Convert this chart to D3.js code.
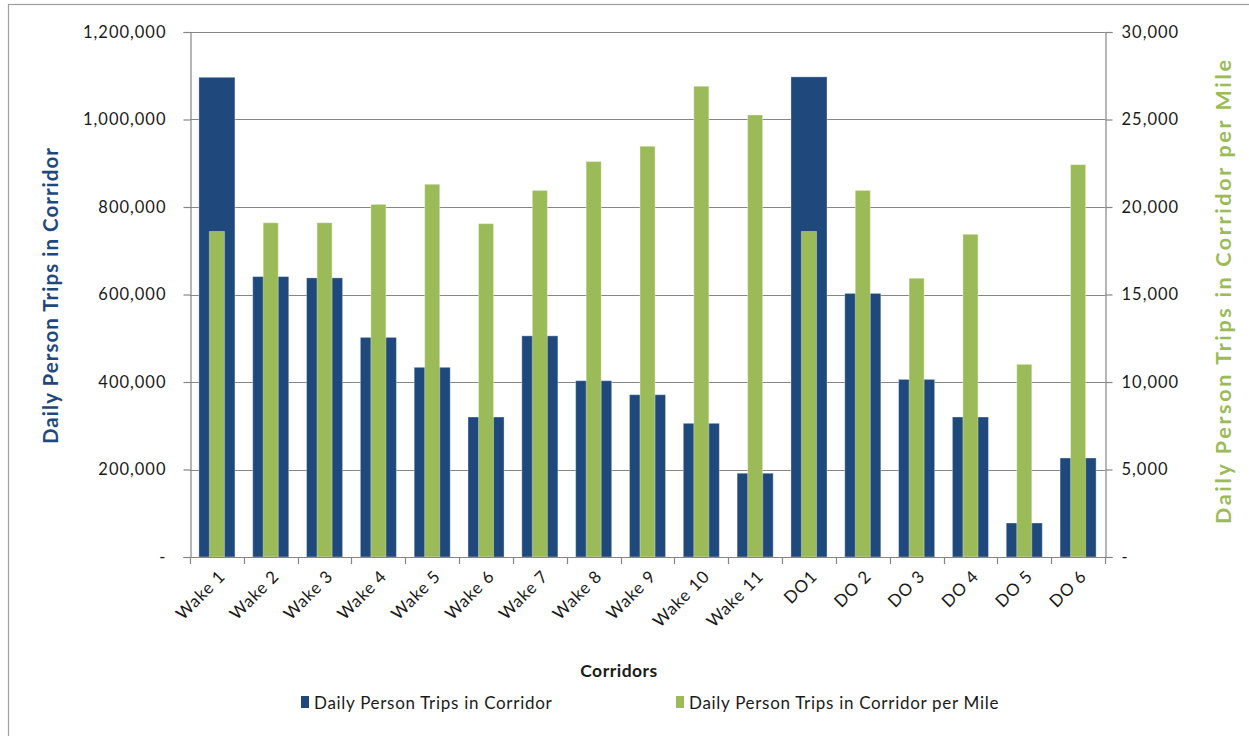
<!DOCTYPE html>
<html>
<head>
<meta charset="utf-8">
<script src="https://cdn.jsdelivr.net/npm/d3@7"></script>
<style>
  html, body { margin: 0; padding: 0; background: #fff; }
  svg { display: block; font-family: Lato, "Open Sans", sans-serif; }
</style>
</head>
<body>
<svg id="chart" width="1249" height="736"></svg>
<script>
// Corridors along the x axis
const corridors = ["Wake 1", "Wake 2", "Wake 3", "Wake 4", "Wake 5", "Wake 6", "Wake 7",
  "Wake 8", "Wake 9", "Wake 10", "Wake 11", "DO1", "DO 2", "DO 3", "DO 4", "DO 5", "DO 6"];

// Daily person trips in each corridor (left axis)
const tripsInCorridor = [1096500, 641000, 638000, 502000, 433600, 320000, 505500,
  403000, 371000, 305600, 191500, 1097500, 602500, 406000, 320000, 77700, 226300];

// Daily person trips per corridor mile (right axis)
const tripsPerMile = [18600, 19100, 19100, 20150, 21300, 19050, 20950,
  22600, 23470, 26900, 25260, 18600, 20950, 15930, 18440, 11010, 22420];

// Axis ticks
const leftTicks = [0, 200000, 400000, 600000, 800000, 1000000, 1200000];
const rightTicks = [0, 5000, 10000, 15000, 20000, 25000, 30000];

const seriesNames = ["Daily Person Trips in Corridor", "Daily Person Trips in Corridor per Mile"];
const colors = { primary: "#1F497D", secondary: "#9BBB59", axis: "#868686", text: "#1a1a1a" };

const plot = { left: 190, right: 1105, top: 32, bottom: 557 };
const svg = d3.select("#chart");

// chart frame
svg.append("rect")
  .attr("x", 8.5).attr("y", 4.5).attr("width", 1260).attr("height", 760)
  .attr("fill", "#fff").attr("stroke", "#a0a0a0").attr("stroke-width", 1.2);

const x = d3.scaleBand().domain(corridors).range([plot.left, plot.right]).padding(0);
const yL = d3.scaleLinear().domain([0, 1200000]).range([plot.bottom, plot.top]);
const yR = d3.scaleLinear().domain([0, 30000]).range([plot.bottom, plot.top]);

const fmt = v => v === 0 ? "-" : d3.format(",")(v);

// horizontal gridlines
svg.append("g").selectAll("line").data(leftTicks.filter(d => d > 0)).join("line")
  .attr("x1", plot.left).attr("x2", plot.right)
  .attr("y1", d => Math.round(yL(d)) + 0.5).attr("y2", d => Math.round(yL(d)) + 0.5)
  .attr("stroke", colors.axis).attr("stroke-width", 1.2);

// primary series bars (wide)
const bw = x.bandwidth();
svg.append("g").selectAll("rect").data(tripsInCorridor).join("rect")
  .attr("x", (d, i) => x(corridors[i]) + bw * 0.165)
  .attr("width", bw * 0.67)
  .attr("y", d => yL(d))
  .attr("height", d => yL(0) - yL(d))
  .attr("fill", colors.primary)
  .attr("stroke", "rgba(255,255,255,0.35)").attr("stroke-width", 1);

// secondary series bars (narrow, overlaid)
svg.append("g").selectAll("rect").data(tripsPerMile).join("rect")
  .attr("x", (d, i) => x(corridors[i]) + bw * 0.36)
  .attr("width", bw * 0.28)
  .attr("y", d => yR(d))
  .attr("height", d => yR(0) - yR(d))
  .attr("fill", colors.secondary)
  .attr("stroke", "rgba(255,255,255,0.35)").attr("stroke-width", 1);

// left axis
const axL = svg.append("g").attr("transform", `translate(${plot.left + 0.5},0)`)
  .call(d3.axisLeft(yL).tickValues(leftTicks).tickFormat(fmt).tickSize(7).tickPadding(17));
// right axis
const axR = svg.append("g").attr("transform", `translate(${plot.right + 0.5},0)`)
  .call(d3.axisRight(yR).tickValues(rightTicks).tickFormat(fmt).tickSize(7).tickPadding(9));
[axL, axR].forEach(g => {
  g.select(".domain").attr("stroke", colors.axis).attr("stroke-width", 1.2);
  g.selectAll(".tick line").attr("stroke", colors.axis).attr("stroke-width", 1.2);
  g.selectAll(".tick text").attr("fill", colors.text)
    .style("font-size", "16.5px").style("font-family", "Lato, sans-serif").attr("letter-spacing", "1px");
});

// bottom axis with ticks at category boundaries
const bottom = svg.append("g");
bottom.append("line").attr("x1", plot.left).attr("x2", plot.right)
  .attr("y1", plot.bottom + 0.5).attr("y2", plot.bottom + 0.5)
  .attr("stroke", colors.axis).attr("stroke-width", 1.2);
const bounds = corridors.map(c => x(c)).concat([plot.right]);
bottom.selectAll("line.tk").data(bounds).join("line").attr("class", "tk")
  .attr("x1", d => Math.round(d) + 0.5).attr("x2", d => Math.round(d) + 0.5)
  .attr("y1", plot.bottom).attr("y2", plot.bottom + 7)
  .attr("stroke", colors.axis).attr("stroke-width", 1.2);
bottom.selectAll("text").data(corridors).join("text")
  .attr("transform", d => `translate(${x(d) + bw / 2 + 1},${plot.bottom + 12}) rotate(-45)`)
  .attr("text-anchor", "end").attr("dy", "0.7em")
  .attr("fill", colors.text).style("font-size", "17px").attr("letter-spacing", "0.8px")
  .text(d => d);

// axis titles
svg.append("text").attr("transform", `translate(58,296) rotate(-90)`)
  .attr("text-anchor", "middle").attr("fill", colors.primary)
  .attr("textLength", 296).attr("lengthAdjust", "spacing")
  .style("font-size", "20.5px").style("font-weight", "bold").text("Daily Person Trips in Corridor");
svg.append("text").attr("transform", `translate(1231,292) rotate(-90)`)
  .attr("text-anchor", "middle").attr("fill", colors.secondary)
  .attr("textLength", 464).attr("lengthAdjust", "spacing")
  .style("font-size", "21.5px").style("font-weight", "bold").text("Daily Person Trips in Corridor per Mile");
svg.append("text").attr("x", 619).attr("y", 677).attr("text-anchor", "middle")
  .attr("fill", colors.text).style("font-size", "17.5px").style("font-weight", "bold")
  .attr("letter-spacing", "0.5px").text("Corridors");

// legend
const legend = svg.append("g");
const legendX = [301, 676];
seriesNames.forEach((name, i) => {
  const g = legend.append("g").attr("transform", `translate(${legendX[i]},703)`);
  g.append("rect").attr("x", 0).attr("y", -7).attr("width", 8).attr("height", 12)
    .attr("fill", i === 0 ? colors.primary : colors.secondary);
  g.append("text").attr("x", 13).attr("y", 0).attr("dy", "0.35em")
    .attr("fill", colors.text).style("font-size", "17px").attr("letter-spacing", "0.7px").text(name);
});
</script>
</body>
</html>
